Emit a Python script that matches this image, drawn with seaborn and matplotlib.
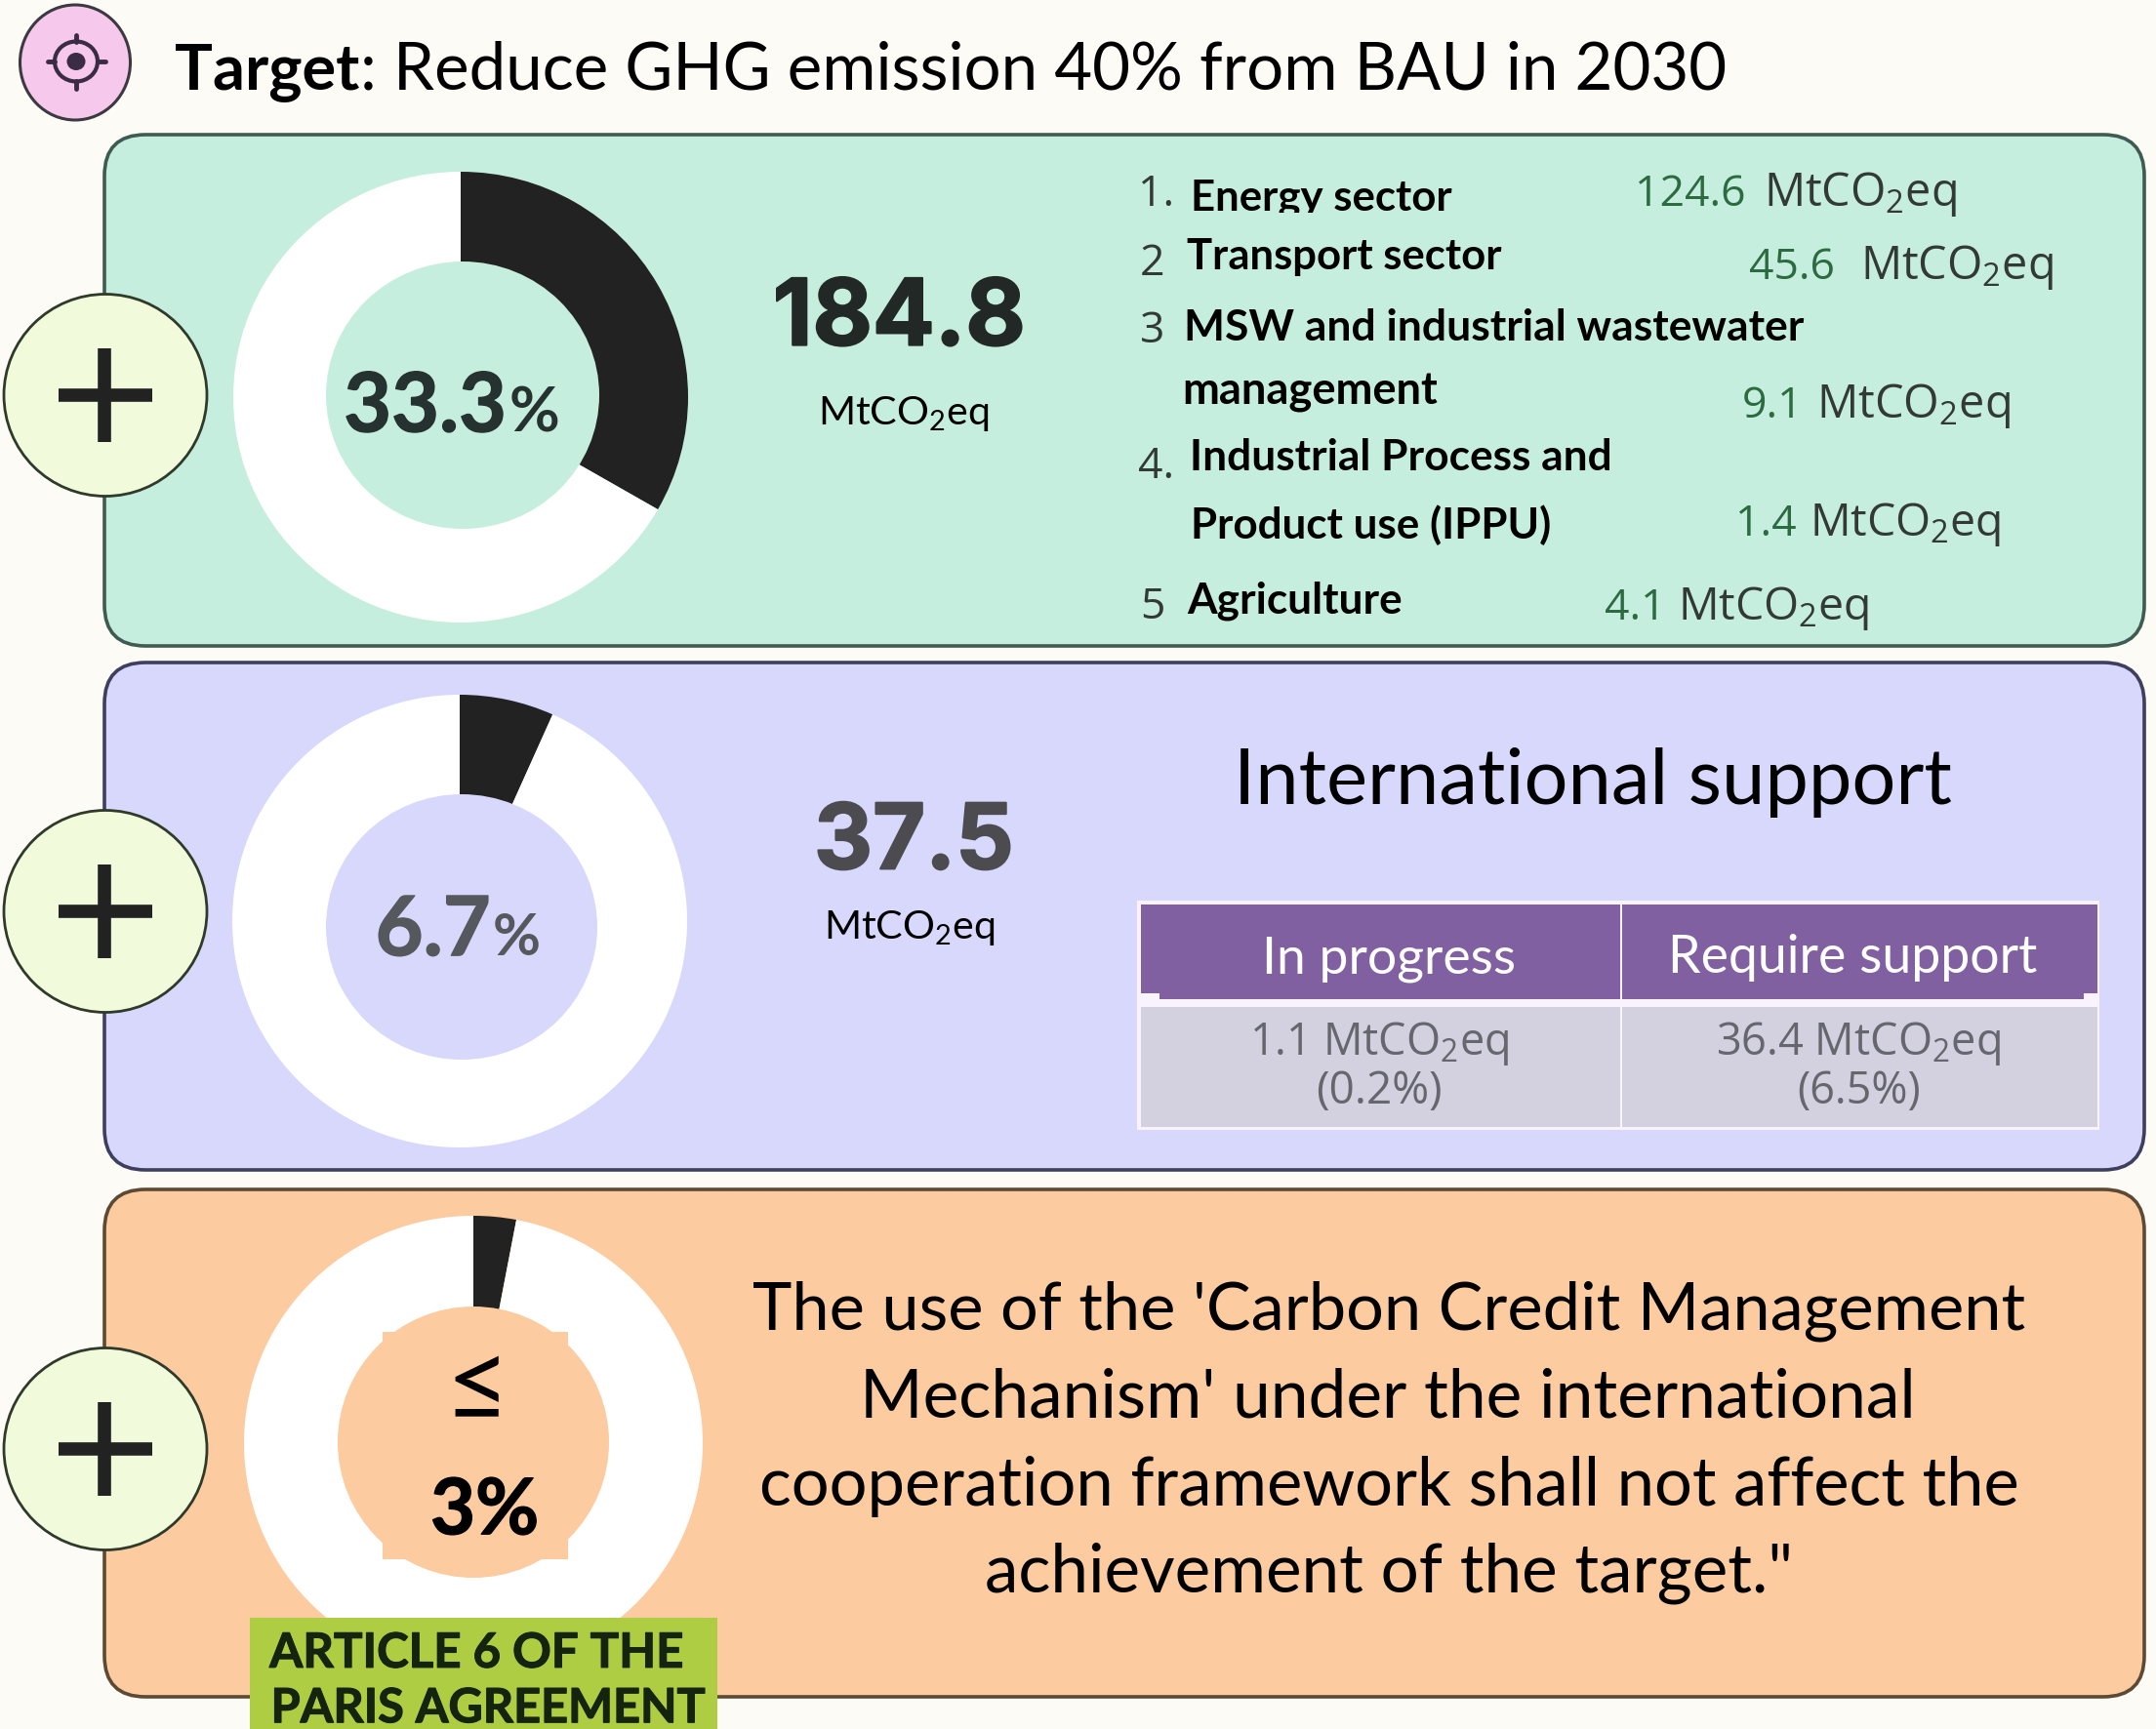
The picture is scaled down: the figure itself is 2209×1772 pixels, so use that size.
import matplotlib
matplotlib.use("Agg")
import matplotlib.pyplot as plt
from matplotlib.patches import FancyBboxPatch, Ellipse, Rectangle
import matplotlib.patheffects as pe
import seaborn as sns

# ---------- data ----------
title_bold = "Target"
title_rest = ": Reduce GHG emission 40% from BAU in 2030"
unit = "MtCO$_2$eq"
totals = [184.8, 37.5]
shares = [33.3, 6.7, 3.0]
sector_numbers = ["1.", "2", "3", "4.", "5"]
sector_lines = ["Energy sector", "Transport sector", "MSW and industrial wastewater",
                "management", "Industrial Process and", "Product use (IPPU)", "Agriculture"]
sector_values = [124.6, 45.6, 9.1, 1.4, 4.1]
support_title = "International support"
support_headers = ["In progress", "Require support"]
support_values = [1.1, 36.4]
support_shares = [0.2, 6.5]
credit_lines = ["The use of the 'Carbon Credit Management", "Mechanism' under the international",
                "cooperation framework shall not affect the", "achievement of the target.\""]
article_lines = ["ARTICLE 6 OF THE", "PARIS AGREEMENT"]

# ---------- theme ----------
sns.set_theme(style="white")
plt.rcParams["font.family"] = ["Lato", "DejaVu Sans"]
plt.rcParams["mathtext.default"] = "regular"
W, H = 2209, 1772
S = W / 1568
BG = "#FDFBF6"
panel_colors = sns.color_palette(["#C6EEDF", "#D8D8FD", "#FDCBA0"])
panel_edges = ["#3F5C52", "#3E3E5E", "#5C4A35"]
donut_colors = sns.color_palette(["#222222", "#FFFFFF"])
ICON = "#3A2C44"

fig = plt.figure(figsize=(W / 100, H / 100), dpi=100, facecolor=BG)


def pixel_axes(z):
    a = fig.add_axes([0, 0, 1, 1], zorder=z)
    a.set_xlim(0, W)
    a.set_ylim(H, 0)
    a.axis("off")
    a.patch.set_alpha(0)
    return a


back = pixel_axes(1)
front = pixel_axes(3)
renderer = fig.canvas.get_renderer()


def fit(ax, x0, x1, y, s, color="black", weight="normal", family=None, z=5, stroke=0):
    """Left/right/baseline in the reduced (1568 wide) frame; size follows the width."""
    kw = {"family": family} if family else {}
    t = ax.text(x0 * S, y * S, s, color=color, fontweight=weight, fontsize=20,
                ha="left", va="baseline", zorder=z, **kw)
    w = t.get_window_extent(renderer).width
    t.set_fontsize(20 * (x1 - x0) * S / w)
    if stroke:
        t.set_path_effects([pe.withStroke(linewidth=stroke, foreground=color)])
    return t


def fixed(ax, x, y, s, size, color="black", family=None, ha="left", z=5):
    kw = {"family": family} if family else {}
    return ax.text(x * S, y * S, s, color=color, fontsize=size, ha=ha, va="baseline", zorder=z, **kw)


# ---------- panels ----------
panel_y = [(138, 662), (679, 1199), (1219, 1739)]
for (y0, y1), fc, ec in zip(panel_y, panel_colors, panel_edges):
    back.add_patch(FancyBboxPatch((107, y0), 2090, y1 - y0, boxstyle="round,pad=0,rounding_size=42",
                                  fc=fc, ec=ec, lw=2.6, zorder=2))

# ---------- plus buttons ----------
for cy in [405, 934, 1485]:
    back.add_patch(Ellipse((108, cy), 208, 207, fc="#F1FADB", ec="#2F3A2A", lw=2, zorder=3))
    back.plot([60, 156], [cy, cy], color="#222222", lw=9.8, solid_capstyle="butt", zorder=4)
    back.plot([107, 107], [cy - 48, cy + 48], color="#222222", lw=9.8, solid_capstyle="butt", zorder=4)

# ---------- target icon ----------
back.add_patch(Ellipse((77, 64), 113, 118, fc="#F6C8EC", ec="#3C3A40", lw=2.2, zorder=3))
back.add_patch(Ellipse((78, 63), 44, 41, fc="none", ec=ICON, lw=3, zorder=4))
back.add_patch(Ellipse((78, 63), 19, 18, fc=ICON, ec="none", zorder=4))
back.plot([78, 78], [36, 43], color=ICON, lw=3.5, zorder=4)
back.plot([78, 78], [83, 91], color=ICON, lw=3.5, zorder=4)
back.plot([49, 56], [63, 63], color=ICON, lw=3.5, zorder=4)
back.plot([101, 108], [63, 63], color=ICON, lw=3.5, zorder=4)


# ---------- donuts ----------
def donut(share, cx, cy, rx, ry, hx, hy, hrx, hry, hole_color):
    a = fig.add_axes([(cx - rx) / W, 1 - (cy + ry) / H, 2 * rx / W, 2 * ry / H], zorder=2)
    a.pie([share, 100 - share], startangle=90, counterclock=False, colors=donut_colors,
          radius=1, wedgeprops={"linewidth": 0})
    a.set_xlim(-1, 1)
    a.set_ylim(-1, 1)
    a.set_aspect("auto")
    a.axis("off")
    a.patch.set_alpha(0)
    front.add_patch(Ellipse((hx, hy), 2 * hrx, 2 * hry, fc=hole_color, ec="none", zorder=1))


donut(shares[0], 472, 407, 233, 231, 474, 405, 140, 137, panel_colors[0])
donut(shares[1], 471, 944, 233, 232, 473, 950, 139, 136, panel_colors[1])
donut(shares[2], 485, 1479, 235, 233, 485, 1478, 139, 139, panel_colors[2])

# ---------- title ----------
fit(front, 127, 261, 65, title_bold, weight="bold")
fit(front, 262, 1257, 65, title_rest)

# ---------- panel 1 ----------
fit(front, 250, 368, 314, f"{shares[0]}", color="#263230", weight="bold", stroke=1)
fit(front, 370, 407, 314, "%", color="#263230", weight="bold")
fit(front, 562, 746, 251, f"{totals[0]}", color="#222826", weight="bold", family="Inter", stroke=1.5)
fit(front, 595, 720, 309, unit)

num_pos = [(828, 150), (829, 200), (829, 249), (828, 348), (829, 450)]
for s, (x, y) in zip(sector_numbers, num_pos):
    fixed(front, x, y, s, 32, color="#333A36", family="Open Sans")
for s, (x0, x1, y) in zip(sector_lines, [(866, 1056, 153), (863, 1092, 196), (861, 1312, 248),
                                         (860, 1046, 294), (865, 1172, 342), (866, 1129, 392),
                                         (863, 1019, 446)]):
    fit(front, x0, x1, y, s, weight="bold")
# descenders of the first line are cut off in the picture
front.add_patch(Rectangle((1220, 218), 270, 10, fc=panel_colors[0], ec="none", zorder=6))

value_pos = [(1189, 1283, 1424, 150), (1272, 1353, 1494, 203), (1267, 1321, 1463, 304),
             (1262, 1316, 1456, 390), (1167, 1220, 1360, 451)]
for v, (a0, b0, b1, y) in zip(sector_values, value_pos):
    fixed(front, a0, y, f"{v}", 32, color="#2C6B40", family="Open Sans")
    fit(front, b0, b1, y, unit, color="#333A36", family="Open Sans")

# ---------- panel 2 ----------
fit(front, 273, 357, 695, f"{shares[1]}", color="#55585C", weight="bold", stroke=1)
fit(front, 358, 393, 695, "%", color="#55585C", weight="bold")
fit(front, 592, 737, 632, f"{totals[1]}", color="#4C4C50", weight="bold", family="Inter", stroke=1.5)
fit(front, 599, 724, 683, unit)
fit(front, 897, 1420, 585, support_title)

back.add_patch(Rectangle((1165, 923), 986, 235, fc="#F8F3FC", ec="none", zorder=3))
HEAD = "#8060A0"
for x0, x1, bx0, bx1 in [(1169, 1660, 1188, 1660), (1662, 2149, 1662, 2135)]:
    back.add_patch(Rectangle((x0, 927), x1 - x0, 91, fc=HEAD, ec="none", zorder=4))
    back.add_patch(Rectangle((bx0, 1018), bx1 - bx0, 6, fc=HEAD, ec="none", zorder=4))
    back.add_patch(Rectangle((x0, 1032), x1 - x0, 123, fc="#D3D0DF", ec="none", zorder=4))
fit(front, 918, 1103, 708, support_headers[0], color="white")
fit(front, 1213, 1483, 708, support_headers[1], color="white")
big = fit(front, 1248, 1456, 767, f"{support_values[1]} {unit}", color="#66666E", family="Open Sans")
fixed(front, 1003, 767, f"{support_values[0]} {unit}", big.get_fontsize(), color="#66666E",
      family="Open Sans", ha="center")
fit(front, 957, 1049, 803, f"({support_shares[0]}%)", color="#66666E", family="Open Sans")
fit(front, 1307, 1397, 803, f"({support_shares[1]}%)", color="#66666E", family="Open Sans")

# ---------- panel 3 ----------
front.add_patch(Rectangle((392, 1365), 190, 233, fc=panel_colors[2], ec="none", zorder=2))
fit(front, 323, 370, 1034, "\u2264")
fit(front, 313, 392, 1116, f"{shares[2]:.0f}%", weight="bold", stroke=1)
for s, (x0, x1, y) in zip(credit_lines, [(547, 1474, 967), (625, 1397, 1031), (552, 1470, 1095), (716, 1305, 1158)]):
    fit(front, x0, x1, y, s)

front.add_patch(Rectangle((256, 1658), 479, 114, fc="#AECD42", ec="none", zorder=2))
fit(front, 196, 497, 1213, article_lines[0], color="#15240F", weight="bold", stroke=0.8)
fit(front, 197, 513, 1253, article_lines[1], color="#15240F", weight="bold", stroke=0.8)

fig.savefig("out.png", dpi=100, facecolor=BG)
